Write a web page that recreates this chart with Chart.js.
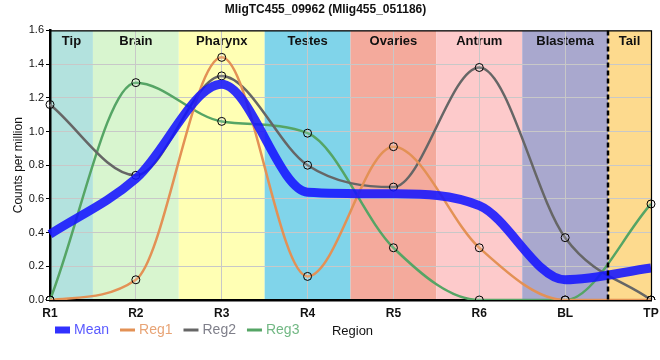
<!DOCTYPE html>
<html>
<head>
<meta charset="utf-8">
<script src="https://cdn.jsdelivr.net/npm/chart.js@4/dist/chart.umd.min.js"></script>
<style>
  html, body { margin:0; padding:0; background:#fff; }
  #wrap { width:660px; height:360px; position:relative; }
</style>
</head>
<body>
<div id="wrap"><canvas id="chart"></canvas></div>
<script>
// ===== data =====
const regions = ['R1','R2','R3','R4','R5','R6','BL','TP'];
const meanVals = [0.39, 0.72, 1.28, 0.64, 0.63, 0.56, 0.12, 0.19];
const reg1Vals = [0.00, 0.12, 1.44, 0.14, 0.91, 0.31, 0.00, 0.00];
const reg2Vals = [1.16, 0.74, 1.33, 0.80, 0.67, 1.38, 0.37, 0.00];
const reg3Vals = [0.00, 1.29, 1.06, 0.99, 0.31, 0.00, 0.00, 0.57];
const bandNames = ['Tip','Brain','Pharynx','Testes','Ovaries','Antrum','Blastema','Tail'];
const bandColors = ['#b3e2de','#d8f5cf','#ffffb4','#80d4ea','#f4aa9c','#fdcacb','#a9a8ce','#fdda8e'];
const dashAfter = 6; // dashed separator between BL and TP

const FONT = "'Liberation Sans', Arial, sans-serif";
Chart.defaults.font.family = FONT;
Chart.defaults.color = '#111';

// bands behind the plot + labels
const bandsPlugin = {
  id: 'bands',
  beforeDraw(chart) {
    const { ctx, chartArea: a, scales: { x } } = chart;
    ctx.save();
    bandNames.forEach((name, i) => {
      const l = Math.max(a.left, x.getPixelForValue(i - 0.5));
      const r = Math.min(a.right, x.getPixelForValue(i + 0.5));
      ctx.fillStyle = bandColors[i];
      ctx.fillRect(l, a.top, r - l, a.bottom - a.top);
      ctx.fillStyle = '#111';
      ctx.font = `bold 13px ${FONT}`;
      ctx.textAlign = 'center';
      ctx.textBaseline = 'middle';
      ctx.fillText(name, (l + r) / 2, a.top + 11);
    });
    ctx.restore();
  },
  afterDatasetsDraw(chart) {
    const { ctx, chartArea: a, scales: { x } } = chart;
    ctx.save();
    // dashed separator
    const dx = Math.round(x.getPixelForValue(dashAfter + 0.5));
    ctx.strokeStyle = '#000';
    ctx.lineWidth = 2.5;
    ctx.setLineDash([5, 3]);
    ctx.beginPath(); ctx.moveTo(dx, a.top); ctx.lineTo(dx, a.bottom); ctx.stroke();
    ctx.setLineDash([]);
    // top + right frame
    ctx.lineWidth = 1.2;
    ctx.beginPath();
    ctx.moveTo(a.left, a.top + 0.5); ctx.lineTo(a.right + 0.5, a.top + 0.5); ctx.lineTo(a.right + 0.5, a.bottom);
    ctx.stroke();
    ctx.restore();
  },
  afterDraw(chart) {
    // legend row + axis title
    const { ctx, chartArea: a } = chart;
    const y = 330;
    let px = 55;
    ctx.save();
    ctx.font = `14px ${FONT}`;
    ctx.textBaseline = 'middle';
    ctx.textAlign = 'left';
    chart.data.datasets.forEach(ds => {
      ctx.strokeStyle = ds.borderColor;
      ctx.lineWidth = ds.legendWidth;
      ctx.beginPath(); ctx.moveTo(px, y); ctx.lineTo(px + 15, y); ctx.stroke();
      ctx.fillStyle = ds.legendText;
      ctx.fillText(ds.label, px + 19, y);
      px += 19 + ctx.measureText(ds.label).width + 11;
    });
    ctx.font = `13px ${FONT}`;
    ctx.fillStyle = '#111';
    ctx.textAlign = 'center';
    ctx.fillText('Region', (a.left + a.right) / 2 + 2, y + 1);
    ctx.restore();
  }
};

const regStyle = (color, text) => ({
  borderColor: color,
  borderWidth: 2.5,
  legendWidth: 3,
  legendText: text,
  pointRadius: 4,
  pointBackgroundColor: 'rgba(255,255,255,0.15)',
  pointBorderColor: '#000',
  pointBorderWidth: 1,
  cubicInterpolationMode: 'monotone',
  fill: false
});

new Chart(document.getElementById('chart'), {
  type: 'line',
  data: {
    labels: regions,
    datasets: [
      { label: 'Mean', data: meanVals, borderColor: 'rgba(20,20,255,0.88)', borderWidth: 9,
        legendWidth: 7, legendText: '#5a5aff', pointRadius: 0, cubicInterpolationMode: 'monotone', fill: false },
      { label: 'Reg1', data: reg1Vals, ...regStyle('#e39155', '#e8a476') },
      { label: 'Reg2', data: reg2Vals, ...regStyle('#666666', '#7f7f8a') },
      { label: 'Reg3', data: reg3Vals, ...regStyle('#55a565', '#72b884') }
    ]
  },
  options: {
    responsive: true,
    maintainAspectRatio: false,
    animation: false,
    layout: { padding: { left: 0, right: 9, top: 0, bottom: 0 } },
    plugins: {
      legend: { display: false },
      tooltip: { enabled: false },
      title: {
        display: true,
        text: 'MligTC455_09962 (Mlig455_051186)',
        font: { size: 12, weight: 'bold' },
        color: '#111',
        padding: { top: 2, bottom: 14 }
      }
    },
    scales: {
      x: {
        offset: false,
        grid: { color: '#c8c8c8', lineWidth: 1, drawTicks: false },
        border: { color: '#000', width: 2.5 },
        ticks: { font: { size: 12, weight: 'bold' }, color: '#111', padding: 6, maxRotation: 0 },
        afterFit(s) { s.height = 60; s.paddingRight = 0; s.paddingLeft = 0; }
      },
      y: {
        min: 0, max: 1.6,
        grid: { color: '#c8c8c8', lineWidth: 1, tickLength: 4, tickColor: '#000' },
        border: { color: '#000', width: 2.5 },
        ticks: { stepSize: 0.2, font: { size: 11 }, color: '#111', padding: 2,
                 callback: v => v.toFixed(1) },
        title: { display: true, text: 'Counts per million', font: { size: 12 }, color: '#111',
                 padding: { top: 11, bottom: 0 } },
        afterFit(s) { s.width = 50; }
      }
    }
  },
  plugins: [bandsPlugin]
});
</script>
</body>
</html>
